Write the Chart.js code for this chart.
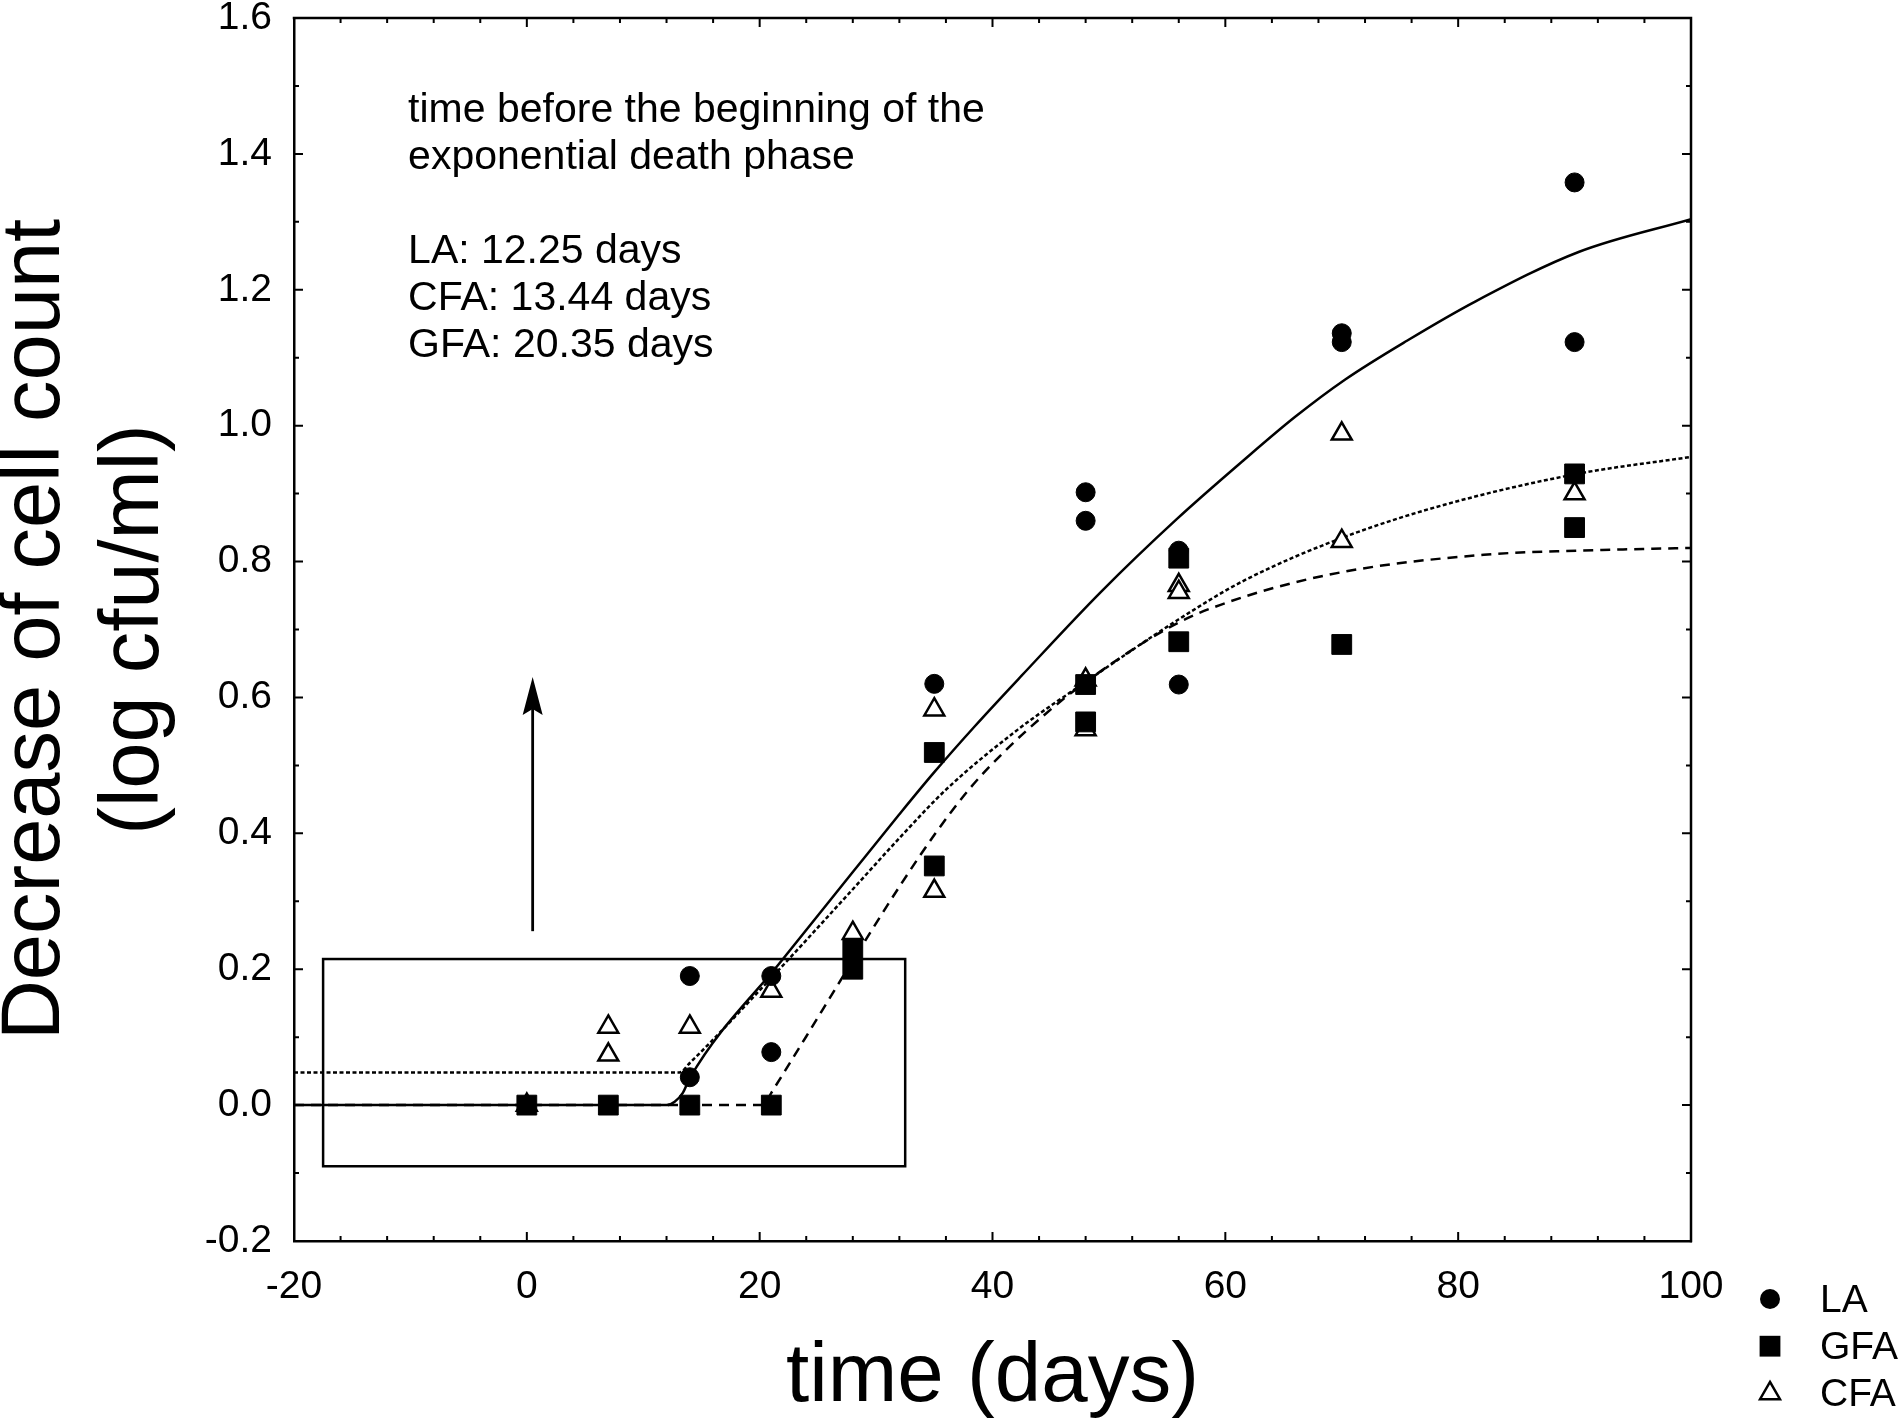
<!DOCTYPE html>
<html>
<head>
<meta charset="utf-8">
<script src="https://cdn.jsdelivr.net/npm/chart.js@4.4.1/dist/chart.umd.min.js"></script>
<style>
html,body{margin:0;padding:0;background:#fff;}
canvas{display:block;}
</style>
</head>
<body>
<canvas id="c" width="1902" height="1427" style="width:1902px;height:1427px"></canvas>
<script>
// ---------- data ----------
const laDays    = [14, 14, 21, 21, 35, 48, 48, 56, 56, 70, 70, 90, 90];
const laValues  = [0.19, 0.041, 0.19, 0.078, 0.62, 0.902, 0.86, 0.816, 0.619, 1.136, 1.123, 1.358, 1.123];

const gfaDays   = [0, 7, 14, 21, 28, 28, 35, 35, 48, 48, 56, 56, 70, 90, 90];
const gfaValues = [0, 0, 0, 0, 0.229, 0.2, 0.519, 0.352, 0.619, 0.564, 0.805, 0.682, 0.678, 0.929, 0.85];

const cfaDays   = [0, 7, 7, 14, 21, 28, 35, 35, 48, 48, 56, 56, 70, 70, 90];
const cfaValues = [0, 0.115, 0.074, 0.115, 0.168, 0.253, 0.582, 0.315, 0.626, 0.553, 0.765, 0.755, 0.988, 0.83, 0.90];

// fitted model curves
const laFitDays   = [-20, 12, 12.7, 13.4, 14, 22, 28, 32, 35, 38.5, 42.5, 49.3, 55.8, 61.5, 66, 70.3, 75.6, 81.5, 90.4, 100];
const laFitValues = [0, 0, 0.005, 0.018, 0.04, 0.215, 0.343, 0.428, 0.49, 0.558, 0.632, 0.755, 0.862, 0.948, 1.013, 1.068, 1.125, 1.183, 1.256, 1.304];

const cfaFitDays   = [-20, 13.1, 14.0, 21.15, 27.75, 32.06, 36.05, 42.2, 48.1, 56, 61.6, 70.2, 78.9, 90.2, 100];
const cfaFitValues = [0.048, 0.048, 0.062, 0.19, 0.313, 0.394, 0.465, 0.553, 0.624, 0.715, 0.772, 0.836, 0.884, 0.929, 0.954];

const gfaFitDays   = [-20, 20.35, 21, 24, 27.18, 32.06, 35.1, 38, 41, 44.5, 48.1, 55.85, 61.6, 70.2, 82.2, 90.2, 100];
const gfaFitValues = [0, 0, 0.018, 0.101, 0.19, 0.323, 0.40, 0.465, 0.52, 0.575, 0.624, 0.709, 0.748, 0.785, 0.810, 0.816, 0.82];

// axes
const xTickValues = [-20, 0, 20, 40, 60, 80, 100];
const yTickValues = [-0.2, 0.0, 0.2, 0.4, 0.6, 0.8, 1.0, 1.2, 1.4, 1.6];
const xTitle = 'time (days)';
const yTitle = ['Decrease of cell count', '(log cfu/ml)'];

// annotations
const noteLines = ['time before the beginning of the', 'exponential death phase', '', 'LA: 12.25 days', 'CFA: 13.44 days', 'GFA: 20.35 days'];
const noteAnchor = {x: -10.2, y: 1.447};
const boxX = [-17.5, 32.5];
const boxY = [-0.09, 0.215];
const arrowX = 0.5;
const arrowY = [0.256, 0.63];
const legendLabels = ['LA', 'GFA', 'CFA'];

// ---------- drawing ----------
const FONT = "'Liberation Sans', Arial, Helvetica, sans-serif";
const pts = (xs, ys) => xs.map((x, i) => ({x: x, y: ys[i]}));

function drawMarker(ctx, style, cx, cy) {
  ctx.save();
  ctx.fillStyle = '#000';
  ctx.strokeStyle = '#000';
  if (style === 'circle') {
    ctx.beginPath(); ctx.arc(cx, cy, 10, 0, Math.PI * 2); ctx.fill();
  } else if (style === 'rect') {
    ctx.fillRect(cx - 10.4, cy - 10.4, 20.8, 20.8);
  } else {
    const r = 11.5;
    ctx.lineWidth = 2.5;
    ctx.fillStyle = '#fff';
    ctx.beginPath();
    ctx.moveTo(cx, cy - r);
    ctx.lineTo(cx + r * 0.866, cy + r * 0.5);
    ctx.lineTo(cx - r * 0.866, cy + r * 0.5);
    ctx.closePath();
    ctx.fill(); ctx.stroke();
  }
  ctx.restore();
}

const decor = {
  id: 'decor',
  beforeDatasetsDraw(chart) {
    const {ctx, scales: {x, y}} = chart;
    ctx.save();
    ctx.strokeStyle = '#000';
    ctx.fillStyle = '#000';
    // rectangle
    ctx.lineWidth = 2.5;
    const x0 = x.getPixelForValue(boxX[0]), x1 = x.getPixelForValue(boxX[1]);
    const y0 = y.getPixelForValue(boxY[0]), y1 = y.getPixelForValue(boxY[1]);
    ctx.strokeRect(x0, y1, x1 - x0, y0 - y1);
    // arrow
    const ax = x.getPixelForValue(arrowX);
    const ay0 = y.getPixelForValue(arrowY[0]);
    const ay1 = y.getPixelForValue(arrowY[1]);
    ctx.lineWidth = 2.8;
    ctx.beginPath(); ctx.moveTo(ax, ay0); ctx.lineTo(ax, ay1 + 30); ctx.stroke();
    ctx.beginPath();
    ctx.moveTo(ax, ay1);
    ctx.lineTo(ax + 10, ay1 + 38);
    ctx.lineTo(ax, ay1 + 32);
    ctx.lineTo(ax - 10, ay1 + 38);
    ctx.closePath();
    ctx.fill();
    // annotation text
    ctx.font = '41px ' + FONT;
    ctx.textAlign = 'left';
    ctx.textBaseline = 'alphabetic';
    const tx = x.getPixelForValue(noteAnchor.x);
    const ty = y.getPixelForValue(noteAnchor.y);
    noteLines.forEach((t, i) => { if (t) ctx.fillText(t, tx, ty + i * 47); });
    ctx.restore();
  },
  afterDraw(chart) {
    const {ctx, chartArea: a, scales: {x, y}} = chart;
    ctx.save();
    ctx.strokeStyle = '#000';
    ctx.lineWidth = 2.5;
    ctx.beginPath();
    ctx.moveTo(a.left - 1.25, a.top);
    ctx.lineTo(a.right, a.top);
    ctx.lineTo(a.right, a.bottom + 1.25);
    ctx.stroke();
    // inward ticks on all four sides
    ctx.lineWidth = 2;
    ctx.beginPath();
    for (let i = 0; i <= 30; i++) {
      const v = -20 + i * 4;
      const px = x.getPixelForValue(v);
      const L = (i % 5 === 0) ? 9 : 5;
      ctx.moveTo(px, a.bottom); ctx.lineTo(px, a.bottom - L);
      ctx.moveTo(px, a.top); ctx.lineTo(px, a.top + L);
    }
    for (let i = 0; i <= 18; i++) {
      const v = -0.2 + i * 0.1;
      const py = y.getPixelForValue(v);
      const L = (i % 2 === 0) ? 9 : 5;
      ctx.moveTo(a.left, py); ctx.lineTo(a.left + L, py);
      ctx.moveTo(a.right, py); ctx.lineTo(a.right - L, py);
    }
    ctx.stroke();
    // legend
    const styles = ['circle', 'rect', 'triangle'];
    const lx = a.right + 79;
    const ly = a.bottom + 58;
    ctx.font = '39px ' + FONT;
    ctx.fillStyle = '#000';
    ctx.textAlign = 'left';
    ctx.textBaseline = 'middle';
    legendLabels.forEach((lab, i) => {
      const cy = ly + i * 47.2;
      drawMarker(ctx, styles[i], lx, cy);
      ctx.fillStyle = '#000';
      ctx.fillText(lab, lx + 50, cy + 2);
    });
    ctx.restore();
  }
};

const ctx = document.getElementById('c').getContext('2d');
new Chart(ctx, {
  type: 'scatter',
  data: {
    datasets: [
      {label: 'GFA', data: pts(gfaDays, gfaValues), pointStyle: 'rect', pointRadius: 14, pointHoverRadius: 14,
       backgroundColor: '#000', borderColor: '#000', borderWidth: 1, showLine: false},
      {label: 'LA', data: pts(laDays, laValues), pointStyle: 'circle', pointRadius: 9.5, pointHoverRadius: 9.5,
       backgroundColor: '#000', borderColor: '#000', borderWidth: 1, showLine: false},
      {label: 'CFA', data: pts(cfaDays, cfaValues), pointStyle: 'triangle', pointRadius: 11.5, pointHoverRadius: 11.5,
       backgroundColor: '#fff', borderColor: '#000', borderWidth: 2.5, showLine: false},
      {label: 'LA fit', data: pts(laFitDays, laFitValues), showLine: true, pointRadius: 0, pointHoverRadius: 0,
       borderColor: '#000', borderWidth: 2.5, cubicInterpolationMode: 'monotone', fill: false},
      {label: 'CFA fit', data: pts(cfaFitDays, cfaFitValues), showLine: true, pointRadius: 0, pointHoverRadius: 0,
       borderColor: '#000', borderWidth: 2.5, borderDash: [4, 2.5], cubicInterpolationMode: 'monotone', fill: false},
      {label: 'GFA fit', data: pts(gfaFitDays, gfaFitValues), showLine: true, pointRadius: 0, pointHoverRadius: 0,
       borderColor: '#000', borderWidth: 2.5, borderDash: [10, 7], cubicInterpolationMode: 'monotone', fill: false}
    ]
  },
  options: {
    responsive: false,
    animation: false,
    devicePixelRatio: 1,
    events: [],
    layout: {padding: {top: 18, right: 211, left: 0, bottom: 0}},
    plugins: {legend: {display: false}, tooltip: {enabled: false}},
    scales: {
      x: {
        type: 'linear', position: 'bottom', min: -20, max: 100,
        afterBuildTicks: s => { s.ticks = xTickValues.map(v => ({value: v})); },
        afterFit: s => { s.height = 186; s.paddingLeft = 0; s.paddingRight = 0; },
        grid: {display: false, drawTicks: false},
        border: {display: true, color: '#000', width: 2.5},
        ticks: {font: {family: FONT, size: 39}, color: '#000', padding: 23, maxRotation: 0, autoSkip: false,
                callback: v => String(v)},
        title: {display: true, text: xTitle, color: '#000',
                font: {family: FONT, size: 83.5, lineHeight: 1}, padding: {top: 0, bottom: 7.5}}
      },
      y: {
        type: 'linear', position: 'left', min: -0.2, max: 1.6,
        afterBuildTicks: s => { s.ticks = yTickValues.map(v => ({value: v})); },
        afterFit: s => { s.width = 294; s.paddingTop = 0; s.paddingBottom = 0; },
        grid: {display: false, drawTicks: false},
        border: {display: true, color: '#000', width: 2.5},
        ticks: {font: {family: FONT, size: 39}, color: '#000', padding: 22, autoSkip: false,
                callback: v => Number(v).toFixed(1)},
        title: {display: true, text: yTitle, color: '#000',
                font: {family: FONT, size: 83, lineHeight: '99px'}, padding: {top: -13.5, bottom: 0}}
      }
    }
  },
  plugins: [decor]
});
</script>
</body>
</html>
